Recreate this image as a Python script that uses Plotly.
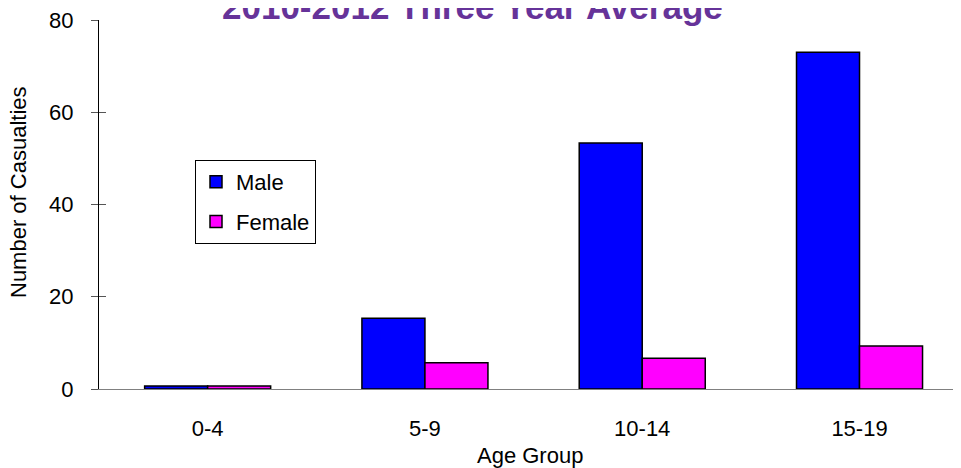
import plotly.graph_objects as go

categories = ["0-4", "5-9", "10-14", "15-19"]
male = [0.67, 15.33, 53.33, 73.0]
female = [0.67, 5.67, 6.67, 9.33]
y_ticks = [0, 20, 40, 60, 80]

FONT = "Liberation Sans, Arial, sans-serif"
fs = 22

# page has an 8px body margin; figure coordinates are offset accordingly
W, H = 953, 460

fig = go.Figure()
fig.add_trace(go.Bar(name="Male", x=categories, y=male, legendgroup="m",
                     marker=dict(color="#0000FF", line=dict(color="black", width=1.5))))
fig.add_trace(go.Bar(name="Female", x=categories, y=female, legendgroup="f",
                     marker=dict(color="#FF00FF", line=dict(color="black", width=1.5))))

fig.update_layout(
    width=W, height=H,
    margin=dict(l=91, r=0, t=12, b=79),
    paper_bgcolor="white", plot_bgcolor="white",
    font=dict(family=FONT, size=fs, color="black"),
    barmode="group", bargap=0.42, bargroupgap=0,
    legend=dict(x=(195-99)/862, y=(389-160)/369, xanchor="left", yanchor="top",
                bordercolor="black", borderwidth=1, bgcolor="white",
                tracegroupgap=8, font=dict(size=fs), traceorder="grouped"),
    xaxis=dict(range=[-0.5, 3.467], showline=True, linecolor="#808080", linewidth=1,
               ticks="", showgrid=False, ticklabelstandoff=20, zeroline=False),
    yaxis=dict(range=[0, 80], tickvals=y_ticks, showline=True, linecolor="black", linewidth=1,
               ticks="outside", ticklen=7, tickcolor="#555555", showgrid=False, zeroline=False,
               ticklabelstandoff=13, ticklabeloverflow="allow"),
    yaxis2=dict(range=[0, 80], tickvals=y_ticks, overlaying="y", side="left", showline=False,
                ticks="inside", ticklen=7, tickcolor="#555555", showticklabels=False, showgrid=False,
                zeroline=False),
    annotations=[
        dict(text="<b>2010-2012 Three Year Average</b>", xref="paper", yref="paper",
             x=(472-99)/862, y=1, yshift=14, showarrow=False, xanchor="center", yanchor="middle",
             font=dict(size=35, color="#663399", family=FONT)),
        dict(text="Number of Casualties", textangle=-90, xref="paper", yref="paper",
             x=0, xshift=-81, y=(389-192)/369, showarrow=False, xanchor="center", yanchor="middle",
             font=dict(size=fs)),
        dict(text="Age Group", xref="paper", yref="paper", x=0.5, y=0, yshift=-(455-389),
             showarrow=False, xanchor="center", yanchor="middle", font=dict(size=fs)),
    ],
)
# dummy trace so the overlaid axis (inner tick halves) is drawn
fig.add_trace(go.Scatter(x=[None], y=[None], yaxis="y2", showlegend=False, hoverinfo="skip"))

fig.write_html("out.html")
